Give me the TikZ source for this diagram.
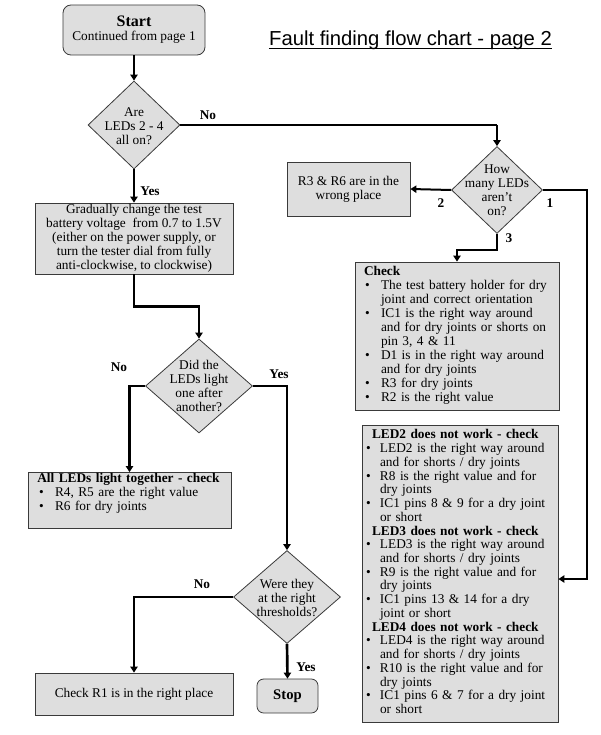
\documentclass[tikz,border=0pt]{standalone}
\usepackage{fontspec}
\setmainfont{Liberation Serif}
\newfontfamily\titlefont{Liberation Sans}
\usepackage{xcolor}
\usetikzlibrary{arrows.meta, positioning, shapes.geometric}
\definecolor{boxgray}{HTML}{DEDEDE}
\definecolor{edgegray}{HTML}{3A3A3A}
\def\bu{\textbullet &}
\def\ts{\fontsize{10}{10.5}\selectfont}

\tikzset{
  box/.style={draw=edgegray, fill=boxgray, line width=0.6pt, inner sep=0pt, font=\ts, align=center},
  rbox/.style={box, rounded corners=6pt},
  dia/.style={diamond, draw=edgegray, fill=boxgray, line width=0.6pt, inner sep=0pt},
  ask/.style={align=center, font=\ts, inner sep=0pt},
  lbl/.style={font=\bfseries\ts},
  thinline/.style={line width=1pt},
  arr/.style={line width=2pt, -{Triangle[length=4.5pt,width=5.5pt]}},
  medarr/.style={arr, line width=1.5pt},
}

\begin{document}
\begin{tikzpicture}[x=0.75pt, y=-0.75pt]
\useasboundingbox (0,0) rectangle (600,735);

% title
\node[inner sep=0pt, anchor=base, font=\titlefont\fontsize{15.2}{17}\selectfont] (title) at (410.5,46) {Fault finding flow chart - page 2};
\draw[line width=0.8pt] ([yshift=-1.8pt]title.base west) -- ([yshift=-1.8pt]title.base east);

% left column
\node[rbox, minimum width=106.5pt, minimum height=37.5pt] (start) at (134,30) {{\fontsize{12}{13}\selectfont\bfseries Start}\\Continued from page 1};
\node[dia, minimum width=69pt, minimum height=66pt] (q1) at (134,125) {};
\node[ask] (q1txt) at (134,126) {Are\\LEDs 2 - 4\\all on?};
\node[box, minimum width=148.5pt, minimum height=53.25pt] (proc) at (134,238.5) {Gradually change the test\\battery voltage \ from 0.7 to 1.5V\\(either on the power supply, or\\turn the tester dial from fully\\anti-clockwise, to clockwise)};
\node[dia, minimum width=80.25pt, minimum height=70.5pt] (q3) at (199,386) {};
\node[ask] (q3txt) at (199,386) {Did the\\LEDs light\\one after\\another?};
\node[box, align=left, text width=152.25pt, minimum height=41.25pt] (all) at (129.5,500.5) {%
\begin{tabular}{@{\hspace{8.25pt}}l@{\hspace{8.5pt}}l@{}}
\multicolumn{2}{@{\hspace{7pt}}l}{\bfseries All LEDs light together - check}\\
\bu R4, R5 are the right value\\
\bu R6 for dry joints\\
 & \\
\end{tabular}};
\node[dia, minimum width=80.25pt, minimum height=69.75pt] (q4) at (287,597) {};
\node[ask] (q4txt) at (287,598) {Were they\\at the right\\thresholds?};
\node[box, minimum width=148.5pt, minimum height=31.5pt] (r1) at (134,694) {Check R1 is in the right place};
\node[rbox, rounded corners=5pt, minimum width=45.75pt, minimum height=25.5pt, font=\bfseries\fontsize{11}{12}\selectfont] (stop) at (287.5,696) {Stop};

% right column
\node[dia, minimum width=68.25pt, minimum height=65.25pt] (q2) at (497,190) {};
\node[ask] (q2txt) at (497,190) {How\\many LEDs\\aren’t\\on?};
\node[box, minimum width=92.25pt, minimum height=40.5pt] (wrong) at (348.5,189) {R3 \& R6 are in the\\wrong place};
\node[box, align=left, text width=153pt, minimum height=111pt] (check) at (457,336) {%
\begin{tabular}{@{\hspace{7.5pt}}l@{\hspace{8.5pt}}l@{}}
\multicolumn{2}{@{\hspace{6.75pt}}l}{\bfseries Check}\\
\bu The test battery holder for dry\\
 & joint and correct orientation\\
\bu IC1 is the right way around\\
 & and for dry joints or shorts on\\
 & pin 3, 4 \& 11\\
\bu D1 is in the right way around\\
 & and for dry joints\\
\bu R3 for dry joints\\
\bu R2 is the right value\\
\end{tabular}};
\node[box, align=left, text width=147pt, minimum height=222.75pt, font=\fontsize{10}{10.3}\selectfont] (led) at (460,573.5) {%
\begin{tabular}{@{\hspace{3pt}}l@{\hspace{7pt}}l@{}}
\multicolumn{2}{@{\hspace{7.5pt}}l}{\bfseries LED2 does not work - check}\\
\bu LED2 is the right way around\\
 & and for shorts / dry joints\\
\bu R8 is the right value and for\\
 & dry joints\\
\bu IC1 pins 8 \& 9 for a dry joint\\
 & or short\\
\multicolumn{2}{@{\hspace{7.5pt}}l}{\bfseries LED3 does not work - check}\\
\bu LED3 is the right way around\\
 & and for shorts / dry joints\\
\bu R9 is the right value and for\\
 & dry joints\\
\bu IC1 pins 13 \& 14 for a dry\\
 & joint or short\\
\multicolumn{2}{@{\hspace{7.5pt}}l}{\bfseries LED4 does not work - check}\\
\bu LED4 is the right way around\\
 & and for shorts / dry joints\\
\bu R10 is the right value and for\\
 & dry joints\\
\bu IC1 pins 6 \& 7 for a dry joint\\
 & or short\\
\end{tabular}};

% connectors
\coordinate (noturn) at (q1.east -| q2.north);
\coordinate (oneturn) at (587,579);
\draw[arr] (start.south) -- (q1.north);
\draw[arr] (q1.south) -- (proc.north);
\draw[thinline] (q1.east) -- (noturn);
\draw[medarr] (noturn) -- (q2.north);
\draw[medarr] (q2.west) -- (wrong.east);
\draw[medarr] (q2.east) -| (oneturn) -- (led.east |- oneturn);
\draw[medarr] (q2.south) -- ++(0,16) -| (check.north);
\draw[arr] (proc.south) -- ++(0,32) -| (q3.north);
\draw[arr] (q3.west) -| (all.north);
\draw[arr] (q3.east) -| (q4.north);
\draw[arr] (q4.west) -| (r1.north);
\draw[arr] (q4.south) -- (stop.north);

% branch labels
\node[lbl] (no1) at (208,115) {No};
\node[lbl] (yes1) at (150,191) {Yes};
\node[lbl] (two) at (441,203) {2};
\node[lbl] (one) at (550,203) {1};
\node[lbl] (three) at (509,238) {3};
\node[lbl] (no2) at (119,367) {No};
\node[lbl] (yes2) at (279,374) {Yes};
\node[lbl] (no3) at (202,584) {No};
\node[lbl] (yes3) at (306,667) {Yes};
\end{tikzpicture}
\end{document}
